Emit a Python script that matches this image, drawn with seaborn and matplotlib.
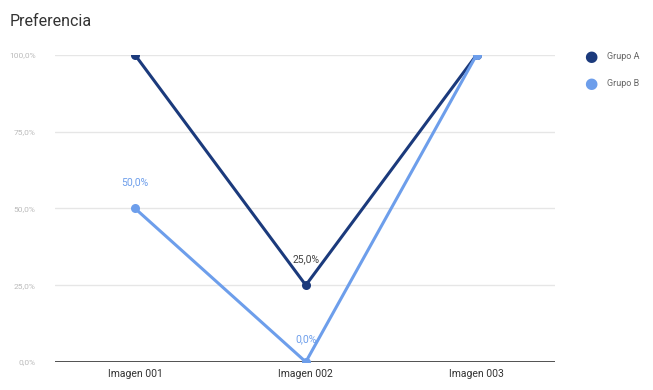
import matplotlib
matplotlib.use("Agg")
import matplotlib.pyplot as plt
import pandas as pd
import seaborn as sns

categories = ["Imagen 001", "Imagen 002", "Imagen 003"]
grupo_a = [1.00, 0.25, 1.00]
grupo_b = [0.50, 0.00, 1.00]
series_names = ["Grupo A", "Grupo B"]
colors = ["#1b3a7c", "#6d9eeb"]
y_ticks = [0.0, 0.25, 0.5, 0.75, 1.0]

sns.set_theme(style="white")
plt.rcParams["font.family"] = ["Roboto", "DejaVu Sans"]

df = pd.DataFrame({
    "imagen": categories * 2,
    "x": list(range(len(categories))) * 2,
    "valor": grupo_a + grupo_b,
    "grupo": [series_names[0]] * 3 + [series_names[1]] * 3,
})

fig = plt.figure(figsize=(6.53, 3.90), dpi=100)
ax = fig.add_axes([0.084, 0.072, 0.766, 0.787])

for y in y_ticks[1:]:
    ax.axhline(y, color="#e6e6e6", linewidth=1, zorder=0)
ax.axhline(0, color="#333333", linewidth=1.2, zorder=1)

sns.lineplot(
    data=df, x="x", y="valor", hue="grupo", palette=colors,
    marker="o", markersize=6.5, markeredgewidth=0, linewidth=2.2,
    legend=False, ax=ax, zorder=3,
)


def fmt(v):
    return f"{v * 100:.1f}%".replace(".", ",")


# data labels shown in the reference
ax.annotate(fmt(grupo_b[0]), (0, grupo_b[0]), xytext=(0, 19), textcoords="offset points",
            ha="center", va="center", fontsize=7.5, color=colors[1])
ax.annotate(fmt(grupo_a[1]), (1, grupo_a[1]), xytext=(0, 19), textcoords="offset points",
            ha="center", va="center", fontsize=7.5, color="#444444")
ax.annotate(fmt(grupo_b[1]), (1, grupo_b[1]), xytext=(0, 16), textcoords="offset points",
            ha="center", va="center", fontsize=7.5, color=colors[1])

ax.set_xlim(-0.47, 2.46)
ax.set_ylim(0, 1.0)
ax.set_xticks(range(len(categories)))
ax.set_xticklabels(categories, fontsize=7.5, color="#333333")
ax.set_yticks(y_ticks)
ax.set_yticklabels([fmt(v) for v in y_ticks], fontsize=6, color="#bbbbbb")
ax.tick_params(axis="both", length=0, pad=5)
ax.tick_params(axis="y", pad=14)
ax.set_xlabel("")
ax.set_ylabel("")
for s in ax.spines.values():
    s.set_visible(False)

fig.text(0.015, 0.945, "Preferencia", fontsize=11.5, color="#333333", ha="left", va="center")

for i, (name, c) in enumerate(zip(series_names, colors)):
    y = 0.855 - i * 0.07
    fig.text(0.905, y, "\u25cf", fontsize=11, color=c, ha="center", va="center")
    fig.text(0.93, y, name, fontsize=6.5, color="#666666", ha="left", va="center")

fig.savefig("out.png", dpi=100)
